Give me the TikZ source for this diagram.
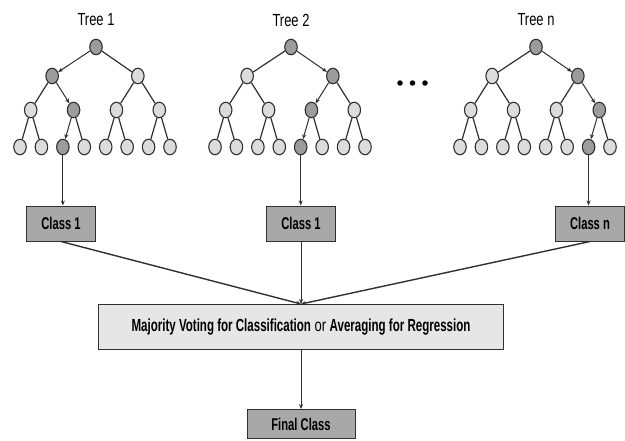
\documentclass[tikz,border=0pt]{standalone}
\usepackage{fontspec}
\setmainfont{Liberation Sans}[FakeStretch=0.74, BoldFeatures={FakeStretch=0.66}]
\usetikzlibrary{shapes.geometric, arrows.meta, positioning}
\definecolor{cLine}{HTML}{303030}
\definecolor{cNode}{HTML}{DCDCDC}
\definecolor{cPath}{HTML}{9C9C9C}
\definecolor{cBox}{HTML}{A8A8A8}
\definecolor{cVote}{HTML}{E6E6E6}
\tikzset{
  treenode/.style={
    ellipse, draw=cLine, fill=#1, line width=1.1pt,
    minimum width=12.5pt, minimum height=15.5pt, inner sep=0pt,
  },
  treenode/.default=cNode,
  treetitle/.style={font=\fontsize{17.5}{19}\selectfont, text=black},
  classbox/.style={
    draw=cLine, fill=cBox, line width=1pt,
    minimum width=#1, minimum height=35pt, inner sep=0pt,
    font=\fontsize{17}{19}\selectfont\bfseries, text=black,
  },
  classbox/.default=69pt,
  votebox/.style={
    draw=cLine, fill=cVote, line width=1pt,
    minimum width=405pt, minimum height=45pt, inner sep=0pt,
    font=\fontsize{17.5}{19}\selectfont, text=black,
  },
  dot/.style={circle, fill=black, minimum size=5.5pt, inner sep=0pt},
  treeedge/.style={draw=cLine, line width=1.2pt},
  arw/.style={-{Stealth[length=5pt, width=4pt]}, draw=cLine, line width=#1},
  arw/.default=1pt,
}

\begin{document}
\begin{tikzpicture}[x=1pt, y=-1pt]
  \useasboundingbox (0,0) rectangle (625,440);

  % Trees: x of first leaf, title, chosen child at each level
  \foreach \t/\xo/\name/\pa/\pb/\pc in
      {1/20/Tree 1/0/1/2, 2/215/Tree 2/1/2/4, 3/460/Tree n/1/3/6} {
    \node[treetitle] (title\t) at (\xo+76, 20) {\name};
    \node[treenode=cPath] (t\t) at (\xo+76, 47) {};
    % level 2
    \foreach \i in {0,1} {
      \ifnum\i=\pa\relax \def\nodefill{cPath}\def\edgestyle{arw}%
      \else \def\nodefill{cNode}\def\edgestyle{treeedge}\fi
      \node[treenode=\nodefill] (t\t a\i) at (\xo+32.14+\i*85.71, 76) {};
      \draw[\edgestyle] (t\t) -- (t\t a\i);
    }
    % level 3
    \foreach \i in {0,...,3} {
      \pgfmathtruncatemacro\up{div(\i,2)}
      \ifnum\i=\pb\relax \def\nodefill{cPath}\def\edgestyle{arw}%
      \else \def\nodefill{cNode}\def\edgestyle{treeedge}\fi
      \node[treenode=\nodefill] (t\t b\i) at (\xo+10.71+\i*42.86, 110) {};
      \draw[\edgestyle] (t\t a\up) -- (t\t b\i);
    }
    % leaves
    \foreach \i in {0,...,7} {
      \pgfmathtruncatemacro\up{div(\i,2)}
      \ifnum\i=\pc\relax \def\nodefill{cPath}\def\edgestyle{arw}%
      \else \def\nodefill{cNode}\def\edgestyle{treeedge}\fi
      \node[treenode=\nodefill] (t\t c\i) at (\xo+\i*21.43, 147) {};
      \draw[\edgestyle] (t\t b\up) -- (t\t c\i);
    }
  }

  % Dots between the trees
  \foreach \i/\x in {1/400, 2/412.5, 3/425}
    \node[dot] (dot\i) at (\x, 83) {};

  % Class boxes
  \node[classbox] (c1) at (61, 223.5) {Class 1};
  \node[classbox] (c2) at (301, 223.5) {Class 1};
  \node[classbox] (c3) at (590, 223.5) {Class n};

  \draw[arw] (t1c2) -- (t1c2 |- c1.north);
  \draw[arw] (t2c4) -- (t2c4 |- c2.north);
  \draw[arw] (t3c6) -- (t3c6 |- c3.north);

  % Voting / averaging
  \node[votebox] (vote) at (301, 327)
    {\textbf{Majority Voting for Classification} or \textbf{Averaging for Regression}};

  \draw[arw=1.4pt] (c1.south) -- (vote.north);
  \draw[arw] (c2.south) -- (vote.north);
  \draw[arw=1.4pt] (c3.south) -- (vote.north);

  % Final class
  \node[classbox=108pt, minimum height=29pt] (final) at (301, 424) {Final Class};
  \draw[arw] (vote.south) -- (final.north);

\end{tikzpicture}
\end{document}
